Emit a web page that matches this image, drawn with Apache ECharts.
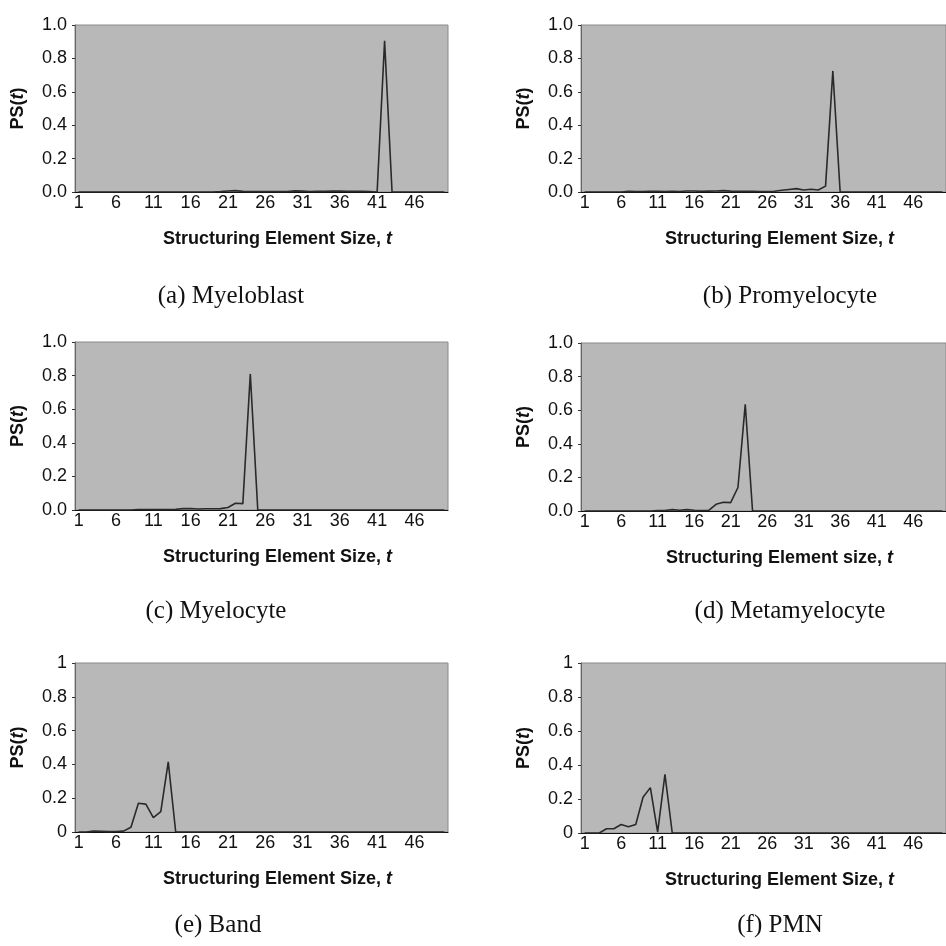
<!DOCTYPE html>
<html>
<head>
<meta charset="utf-8">
<script src="https://cdn.jsdelivr.net/npm/echarts@6/dist/echarts.min.js"></script>
<style>
  html, body { margin: 0; padding: 0; background: #fff; }
  #chart { width: 946px; height: 946px; }
</style>
</head>
<body>
<div id="chart"></div>
<script>
const sizes = [
  "1", "2", "3", "4", "5", "6", "7", "8", "9", "10",
  "11", "12", "13", "14", "15", "16", "17", "18", "19", "20",
  "21", "22", "23", "24", "25", "26", "27", "28", "29", "30",
  "31", "32", "33", "34", "35", "36", "37", "38", "39", "40",
  "41", "42", "43", "44", "45", "46", "47", "48", "49", "50"
];

const myeloblast = [
  0, 0, 0, 0, 0, 0, 0, 0, 0, 0,
  0, 0, 0, 0, 0, 0, 0, 0, 0, 0.002,
  0.006, 0.008, 0.004, 0.002, 0.002, 0.002, 0.002, 0.002, 0.003, 0.007,
  0.005, 0.003, 0.004, 0.004, 0.005, 0.005, 0.004, 0.004, 0.004, 0.003,
  0, 0.905, 0, 0, 0, 0, 0, 0, 0, 0
];
const promyelocyte = [
  0, 0, 0, 0, 0, 0, 0.004, 0.002, 0.002, 0.004,
  0.004, 0.003, 0.004, 0.003, 0.006, 0.006, 0.004, 0.005, 0.006, 0.008,
  0.005, 0.004, 0.004, 0.004, 0.003, 0.002, 0.004, 0.01, 0.015, 0.02,
  0.012, 0.016, 0.012, 0.035, 0.725, 0, 0, 0, 0, 0,
  0, 0, 0, 0, 0, 0, 0, 0, 0, 0
];
const myelocyte = [
  0, 0, 0, 0, 0, 0, 0, 0, 0.003, 0.003,
  0.002, 0.002, 0.002, 0.004, 0.008, 0.009, 0.006, 0.007, 0.007, 0.008,
  0.015, 0.04, 0.038, 0.81, 0, 0, 0, 0, 0, 0,
  0, 0, 0, 0, 0, 0, 0, 0, 0, 0,
  0, 0, 0, 0, 0, 0, 0, 0, 0, 0
];
const metamyelocyte = [
  0, 0, 0, 0, 0, 0, 0, 0, 0, 0,
  0.002, 0.003, 0.008, 0.004, 0.008, 0.004, 0.003, 0.004, 0.04, 0.052,
  0.05, 0.14, 0.635, 0, 0, 0, 0, 0, 0, 0,
  0, 0, 0, 0, 0, 0, 0, 0, 0, 0,
  0, 0, 0, 0, 0, 0, 0, 0, 0, 0
];
const band = [
  0, 0, 0.005, 0.004, 0.002, 0.003, 0.005, 0.028, 0.17, 0.165,
  0.085, 0.12, 0.415, 0, 0, 0, 0, 0, 0, 0,
  0, 0, 0, 0, 0, 0, 0, 0, 0, 0,
  0, 0, 0, 0, 0, 0, 0, 0, 0, 0,
  0, 0, 0, 0, 0, 0, 0, 0, 0, 0
];
const pmn = [
  0, 0, 0, 0.025, 0.025, 0.05, 0.037, 0.05, 0.21, 0.267,
  0.005, 0.345, 0, 0, 0, 0, 0, 0, 0, 0,
  0, 0, 0, 0, 0, 0, 0, 0, 0, 0,
  0, 0, 0, 0, 0, 0, 0, 0, 0, 0,
  0, 0, 0, 0, 0, 0, 0, 0, 0, 0
];

const captions = ["(a) Myeloblast", "(b) Promyelocyte", "(c) Myelocyte",
                  "(d) Metamyelocyte", "(e) Band", "(f) PMN"];
const xNames = ["Structuring Element Size, ", "Structuring Element Size, ",
                "Structuring Element Size, ", "Structuring Element size, ",
                "Structuring Element Size, ", "Structuring Element Size, "];

// panel layout: plot box and caption position
const panels = [
  { data: myeloblast,    left: 75,  top: 25,  height: 167, cx: 231, cy: 296, oneDec: true },
  { data: promyelocyte,  left: 581, top: 25,  height: 167, cx: 790, cy: 296, oneDec: true },
  { data: myelocyte,     left: 75,  top: 342, height: 168, cx: 216, cy: 611, oneDec: true },
  { data: metamyelocyte, left: 581, top: 343, height: 168, cx: 790, cy: 611, oneDec: true },
  { data: band,          left: 75,  top: 663, height: 169, cx: 218, cy: 925, oneDec: false },
  { data: pmn,           left: 581, top: 663, height: 170, cx: 780, cy: 925, oneDec: false }
];

const FONT = "Liberation Sans, Arial, sans-serif";
const nameRich = {
  b: { fontFamily: FONT, fontWeight: "bold", fontSize: 18, color: "#111" },
  i: { fontFamily: FONT, fontWeight: "bold", fontStyle: "italic", fontSize: 18, color: "#111" }
};

const grid = [], xAxis = [], yAxis = [], series = [], graphic = [];
panels.forEach((p, i) => {
  grid.push({
    left: p.left, top: p.top, width: 373, height: p.height,
    show: true, backgroundColor: "#b8b8b8", borderColor: "#8a8a8a", borderWidth: 1
  });
  xAxis.push({
    type: "category", gridIndex: i, data: sizes, boundaryGap: true,
    name: "{b|" + xNames[i] + "}{i|t}",
    nameLocation: "middle", nameGap: 38,
    nameTextStyle: { rich: nameRich, padding: [0, 0, 0, 32] },
    axisLine: { lineStyle: { color: "#111", width: 1 } },
    axisTick: { interval: 0, length: 3, lineStyle: { color: "#333" } },
    axisLabel: { interval: 4, margin: 2, fontFamily: FONT, fontSize: 18, color: "#111" },
    splitLine: { show: false }
  });
  yAxis.push({
    type: "value", gridIndex: i, min: 0, max: 1, interval: 0.2,
    name: "{b|PS(}{i|t}{b|)}",
    nameLocation: "middle", nameGap: 48,
    nameTextStyle: { rich: nameRich },
    axisLine: { show: true, lineStyle: { color: "#666", width: 1 } },
    axisTick: { show: true, length: 3, lineStyle: { color: "#333" } },
    axisLabel: {
      margin: 8, fontFamily: FONT, fontSize: 18, color: "#111",
      formatter: p.oneDec ? (v) => v.toFixed(1) : (v) => String(v)
    },
    splitLine: { show: false }
  });
  series.push({
    type: "line", xAxisIndex: i, yAxisIndex: i, data: p.data,
    showSymbol: false, lineStyle: { color: "#2a2a2a", width: 1.6 }
  });
  graphic.push({
    type: "text", x: p.cx, y: p.cy,
    style: {
      text: captions[i], fill: "#111",
      font: "25px 'Liberation Serif', 'Times New Roman', serif",
      align: "center", verticalAlign: "middle"
    }
  });
});

const chart = echarts.init(document.getElementById("chart"));
chart.setOption({
  animation: false,
  backgroundColor: "#fff",
  grid, xAxis, yAxis, series, graphic
});
</script>
</body>
</html>
